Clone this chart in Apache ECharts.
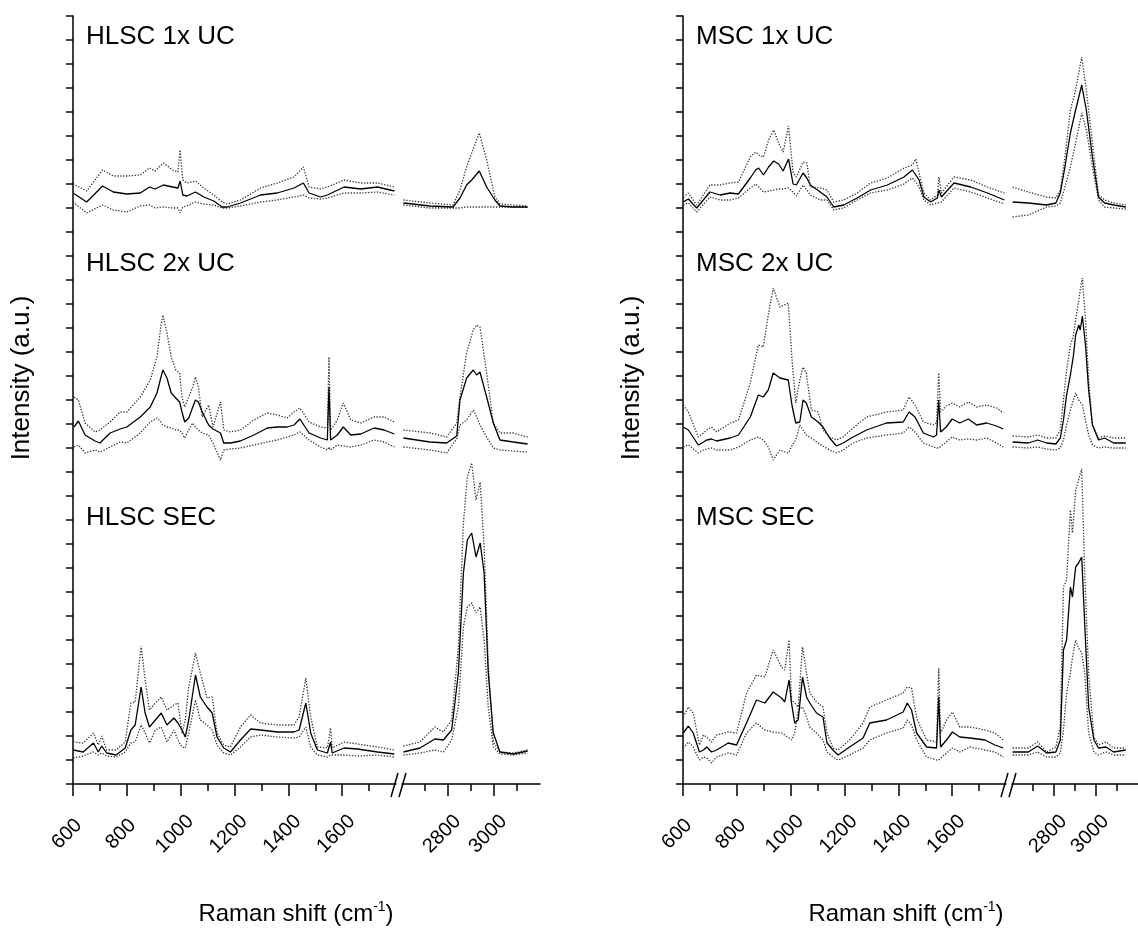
<!DOCTYPE html>
<html><head><meta charset="utf-8">
<script src="https://cdn.jsdelivr.net/npm/echarts@6/dist/echarts.min.js"></script>
<style>html,body{margin:0;padding:0;background:#fff}#c{width:1138px;height:929px}</style>
</head><body><div id="c"></div>
<script>
// ---------- DATA (y values in arbitrary intensity units, offset stacked) ----------
// HLSC 1x UC
const hlsc1_L_x = [600,651,710,750,800,850,884,905,936,970,990,998,1008,1023,1055,1086,1123,1154,1173,1222,1297,1359,1421,1456,1477,1520,1545,1607,1669,1731,1794];
const hlsc1_L_mean = [591,582,598,592,590,591,597,595,599,597,596,603,589,588,592,587,583,577,577,581,589,591,596,601,591,587,589,597,595,597,593];
const hlsc1_L_up = [600,593,614,608,608,609,616,613,621,614,612,634,604,601,603,596,589,582,580,584,596,601,607,617,597,595,597,604,601,601,597];
const hlsc1_L_lo = [582,571,579,574,572,578,579,576,577,576,576,571,577,578,582,580,579,576,576,578,582,584,587,589,586,585,586,591,591,592,589];
const hlsc1_R_x = [2606,2722,2822,2852,2881,2903,2936,2968,3004,3026,3083,3147];
const hlsc1_R_mean = [581,578,577,586,599,604,613,597,584,578,577,577];
const hlsc1_R_up = [584,581,579,594,617,631,651,624,587,580,579,578];
const hlsc1_R_lo = [579,576,576,576,577,577,577,577,577,577,577,577];
// HLSC 2x UC
const hlsc2_L_x = [604,620,645,682,700,738,775,800,850,887,912,926,934,949,965,982,996,1005,1015,1030,1045,1055,1066,1080,1104,1120,1148,1160,1185,1222,1272,1322,1359,1396,1421,1443,1477,1520,1545,1551,1557,1582,1604,1632,1669,1719,1756,1794];
const hlsc2_L_mean = [357,363,349,343,341,351,355,357,367,377,391,406,414,406,391,386,382,372,362,366,377,384,382,372,359,355,351,341,341,343,349,356,357,357,359,365,351,346,344,397,344,349,357,349,350,356,354,350];
const hlsc2_L_up = [387,384,361,352,354,362,372,372,387,404,427,457,469,451,427,414,411,387,377,387,397,407,397,367,379,357,382,354,352,354,364,371,369,366,372,376,362,357,356,427,354,364,381,364,361,367,367,362];
const hlsc2_L_lo = [337,339,331,334,332,337,342,341,351,362,366,362,359,357,356,354,354,351,346,354,361,357,354,351,349,341,324,334,335,336,339,342,344,347,349,352,344,337,334,337,334,339,338,337,339,344,342,337];
const hlsc2_R_x = [2606,2722,2794,2838,2852,2881,2910,2925,2939,2968,2997,3026,3084,3146];
const hlsc2_R_mean = [346,342,341,348,384,406,414,409,412,387,361,344,342,340];
const hlsc2_R_up = [354,351,347,361,387,431,454,459,457,411,361,351,351,347];
const hlsc2_R_lo = [337,334,331,345,359,364,374,367,359,347,336,334,333,332];
// HLSC SEC
const hlscS_L_x = [601,638,676,694,707,725,760,794,815,831,853,868,884,906,928,949,975,990,1005,1017,1030,1055,1073,1098,1117,1135,1160,1185,1222,1260,1297,1359,1421,1440,1465,1483,1508,1545,1557,1563,1607,1657,1731,1794];
const hlscS_L_mean = [34,32,41,32,38,31,29,36,54,59,97,71,57,64,71,59,66,61,54,47,64,109,87,77,71,47,36,32,44,55,54,52,52,54,81,51,34,31,42,31,36,35,32,30];
const hlscS_L_up = [42,41,51,39,48,34,34,42,81,82,138,104,74,81,87,74,79,81,51,64,97,131,111,86,87,51,39,37,57,69,61,59,59,67,106,67,37,36,56,36,42,40,37,34];
const hlscS_L_lo = [26,28,32,29,31,28,27,32,41,42,59,51,41,54,57,42,54,44,37,36,51,84,64,59,54,39,31,29,37,47,49,47,46,47,57,37,29,27,29,27,29,28,29,27];
const hlscS_R_x = [2606,2678,2743,2780,2816,2845,2867,2884,2903,2922,2940,2957,2975,2997,3026,3084,3146];
const hlscS_R_mean = [32,36,45,44,54,111,211,244,251,227,241,211,111,51,32,30,33];
const hlscS_R_up = [38,42,57,52,64,137,261,307,321,284,302,237,121,42,32,31,34];
const hlscS_R_lo = [29,31,34,32,44,77,157,177,181,171,177,144,77,37,30,29,31];
// MSC 1x UC
const msc1_L_x = [601,620,651,700,738,775,806,850,870,881,899,918,937,955,972,992,1009,1021,1046,1060,1073,1110,1135,1160,1197,1247,1297,1359,1421,1452,1465,1477,1495,1520,1545,1551,1560,1607,1669,1731,1794];
const msc1_L_mean = [582,585,576,592,589,591,590,606,614,616,609,617,623,620,613,625,600,599,611,606,599,592,587,577,579,586,594,599,607,614,609,604,587,582,586,594,587,601,597,591,584];
const msc1_L_up = [587,591,579,599,599,601,602,627,632,629,627,644,654,641,632,658,611,607,622,621,597,596,594,582,584,591,601,606,616,619,625,611,591,584,589,607,591,607,604,597,591];
const msc1_L_lo = [579,581,572,587,584,584,586,596,600,597,592,593,594,595,595,596,592,588,599,594,589,584,584,574,576,584,591,594,600,606,602,597,584,579,581,581,582,596,592,586,580];
const msc1_R_x = [2603,2678,2765,2809,2830,2852,2878,2903,2932,2954,2983,3012,3041,3084,3142];
const msc1_R_mean = [582,581,579,581,591,617,651,674,699,674,627,587,581,579,577];
const msc1_R_up = [597,592,587,586,594,627,674,694,727,694,641,589,584,581,579];
const msc1_R_lo = [567,569,577,578,581,597,617,641,671,654,617,584,577,576,575];
// MSC 2x UC
const msc2_L_x = [601,620,657,676,688,706,725,775,806,850,880,898,917,935,960,991,997,1006,1019,1034,1046,1058,1077,1102,1120,1145,1170,1195,1232,1282,1356,1418,1440,1462,1493,1530,1542,1550,1557,1578,1600,1628,1660,1691,1728,1765,1790];
const msc2_L_mean = [357,354,339,342,344,345,343,346,349,367,389,387,394,411,406,404,402,377,361,362,384,381,367,362,357,346,338,341,347,354,361,362,372,367,351,347,349,384,352,357,365,361,365,359,361,358,355];
const msc2_L_up = [379,372,347,351,354,357,352,361,364,401,439,437,469,496,477,481,482,421,381,404,417,411,374,372,354,347,344,347,356,367,372,374,387,379,362,359,361,411,372,378,381,377,382,377,379,376,371];
const msc2_L_lo = [337,339,331,334,335,336,334,334,337,344,347,344,337,324,334,331,332,339,344,359,354,349,346,341,338,334,331,334,341,346,349,351,357,352,341,337,336,336,337,342,347,344,345,344,346,341,337];
const msc2_R_x = [2603,2678,2722,2765,2809,2830,2845,2860,2878,2893,2903,2918,2925,2935,2950,2965,2983,3012,3041,3084,3142];
const msc2_R_mean = [342,341,344,341,340,346,364,389,409,429,449,459,454,468,439,394,359,344,346,341,341];
const msc2_R_up = [348,347,349,346,346,354,384,414,439,449,464,484,494,506,464,404,359,346,348,346,346];
const msc2_R_lo = [337,336,337,335,334,336,344,359,374,384,391,384,382,379,364,349,339,336,337,336,336];
// MSC SEC
const mscS_L_x = [601,620,638,661,676,688,706,725,768,799,836,873,904,935,966,978,994,1003,1015,1028,1044,1059,1071,1096,1120,1135,1157,1176,1219,1269,1294,1356,1418,1433,1449,1468,1505,1542,1550,1557,1579,1601,1628,1666,1722,1759,1790];
const mscS_L_mean = [51,58,51,32,34,37,32,34,41,39,61,84,81,92,86,82,104,81,61,64,107,87,81,71,67,41,34,29,37,46,61,64,72,81,74,51,37,36,87,37,44,52,47,46,44,39,36];
const mscS_L_up = [67,77,71,39,49,47,42,49,52,51,91,109,107,134,117,114,144,84,81,77,137,111,91,82,77,51,36,34,44,61,77,84,91,97,96,66,44,42,116,51,64,72,57,57,54,51,44];
const mscS_L_lo = [36,42,37,24,27,26,21,27,31,29,51,61,54,52,51,49,46,44,51,74,77,67,57,51,44,32,27,24,29,36,44,51,56,64,59,44,27,24,24,26,31,36,32,37,34,32,27];
const mscS_R_x = [2603,2678,2722,2765,2809,2830,2845,2860,2878,2888,2903,2917,2932,2946,2965,2990,3012,3048,3084,3142];
const mscS_R_mean = [32,32,38,31,32,44,134,144,197,187,217,221,227,161,77,44,36,37,32,34];
const mscS_R_up = [36,36,42,32,37,57,197,204,274,251,294,304,315,211,111,47,39,42,36,36];
const mscS_R_lo = [29,29,32,27,27,31,54,91,111,127,144,136,131,111,51,32,29,32,29,29];

// axis ticks / labels
const lowMajorTicks = [600,800,1000,1200,1400,1600];
const lowMinorTicks = [700,900,1100,1300,1500,1700];
const highMajorTicks = [2800,3000];
const highMinorTicks = [2700,2900,3100];
const panelTitles = ['HLSC 1x UC','HLSC 2x UC','HLSC SEC','MSC 1x UC','MSC 2x UC','MSC SEC'];
const xName = 'Raman shift (cm';
const yName = 'Intensity (a.u.)';

// ---------- CHART ----------
const FONT = '"Liberation Sans", Arial, Helvetica, sans-serif';
const chart = echarts.init(document.getElementById('c'), null, {renderer:'canvas'});
const GT = 16, GH = 768;
const grids = [
  {left:73, top:GT, width:323, height:GH},
  {left:402, top:GT, width:138, height:GH},
  {left:683, top:GT, width:323, height:GH},
  {left:1012, top:GT, width:138, height:GH}
];
const ranges = [[600,1800],[2600,3200],[600,1800],[2600,3200]];
const majors = [lowMajorTicks, highMajorTicks, lowMajorTicks, highMajorTicks];
const minors = [lowMinorTicks, highMinorTicks, lowMinorTicks, highMinorTicks];
const axisCol = '#000';
const xAxes = [], yAxes = [];
grids.forEach((g, i) => {
  xAxes.push({
    gridIndex:i, type:'value', min:ranges[i][0], max:ranges[i][1], interval:200, position:'bottom',
    axisLine:{show:true, onZero:false, lineStyle:{color:axisCol, width:1.5}},
    axisTick:{show:true, inside:false, length:12, customValues:majors[i], lineStyle:{color:axisCol, width:1.5}},
    axisLabel:{show:true, customValues:majors[i], rotate:45, margin:44, fontSize:20, color:'#000', fontFamily:FONT,
      align:'center', verticalAlign:'middle', padding:[0,17,0,0], formatter: v => String(v)},
    splitLine:{show:false}
  });
  xAxes.push({
    gridIndex:i, type:'value', min:ranges[i][0], max:ranges[i][1], interval:200, position:'bottom',
    axisLine:{show:false, onZero:false},
    axisTick:{show:true, inside:false, length:7, customValues:minors[i], lineStyle:{color:axisCol, width:1.5}},
    axisLabel:{show:false}, splitLine:{show:false}
  });
  yAxes.push({
    gridIndex:i, type:'value', min:0, max:768, interval:24, show: i % 2 === 0,
    axisLine:{show:true, onZero:false, lineStyle:{color:axisCol, width:1.5}},
    axisTick:{show:true, inside:false, length:7, lineStyle:{color:axisCol, width:1.5}},
    axisLabel:{show:false}, splitLine:{show:false}
  });
});

const series = [];
function pairs(xs, ys){ return xs.map((x, k) => [x, ys[k]]); }
function addSpec(gi, xs, mean, up, lo){
  const base = {type:'line', xAxisIndex:2*gi, yAxisIndex:gi, symbol:'none', showSymbol:false, silent:true, animation:false, clip:true};
  series.push(Object.assign({}, base, {data:pairs(xs, up), z:2, lineStyle:{color:'#333', width:1.3, type:[1.3,1.6]}}));
  series.push(Object.assign({}, base, {data:pairs(xs, lo), z:2, lineStyle:{color:'#333', width:1.3, type:[1.3,1.6]}}));
  series.push(Object.assign({}, base, {data:pairs(xs, mean), z:3, lineStyle:{color:'#000', width:1.3}}));
}
addSpec(0, hlsc1_L_x, hlsc1_L_mean, hlsc1_L_up, hlsc1_L_lo);
addSpec(1, hlsc1_R_x, hlsc1_R_mean, hlsc1_R_up, hlsc1_R_lo);
addSpec(0, hlsc2_L_x, hlsc2_L_mean, hlsc2_L_up, hlsc2_L_lo);
addSpec(1, hlsc2_R_x, hlsc2_R_mean, hlsc2_R_up, hlsc2_R_lo);
addSpec(0, hlscS_L_x, hlscS_L_mean, hlscS_L_up, hlscS_L_lo);
addSpec(1, hlscS_R_x, hlscS_R_mean, hlscS_R_up, hlscS_R_lo);
addSpec(2, msc1_L_x, msc1_L_mean, msc1_L_up, msc1_L_lo);
addSpec(3, msc1_R_x, msc1_R_mean, msc1_R_up, msc1_R_lo);
addSpec(2, msc2_L_x, msc2_L_mean, msc2_L_up, msc2_L_lo);
addSpec(3, msc2_R_x, msc2_R_mean, msc2_R_up, msc2_R_lo);
addSpec(2, mscS_L_x, mscS_L_mean, mscS_L_up, mscS_L_lo);
addSpec(3, mscS_R_x, mscS_R_mean, mscS_R_up, mscS_R_lo);

chart.setOption({
  backgroundColor:'#fff', animation:false,
  grid: grids, xAxis: xAxes, yAxis: yAxes, series: series
});

// ---------- texts and axis-break marks ----------
const graphics = [];
const titleY = [37, 264, 518];
panelTitles.forEach((t, i) => {
  const panel = Math.floor(i / 3);
  const gx = grids[panel * 2].left;
  graphics.push({type:'text', x: gx + 13, y: titleY[i % 3], style:{text:t, font:'26px ' + FONT, fill:'#000', textAlign:'left', textVerticalAlign:'middle', verticalAlign:'middle'}});
});
[0, 2].forEach(gi => {
  const p0 = chart.convertToPixel({gridIndex:gi}, [ranges[gi][0], 0]);
  const cx = p0[0] + 223;
  graphics.push({type:'text', x: cx, y: 914, style:{
    text:'{a|' + xName + '}{s|-1}{a|)}', textAlign:'center', textVerticalAlign:'middle', verticalAlign:'middle',
    rich:{a:{fontSize:24, fontFamily:FONT, fill:'#000', lineHeight:28}, s:{fontSize:14, fontFamily:FONT, fill:'#000', verticalAlign:'top', lineHeight:28}}
  }});
  graphics.push({type:'text', x: p0[0] - 51, y: 378, rotation: Math.PI / 2, style:{
    text: yName, font:'26px ' + FONT, fill:'#000', textAlign:'center', textVerticalAlign:'middle', verticalAlign:'middle'}});
  const a = chart.convertToPixel({gridIndex:gi}, [ranges[gi][1], 0]);
  const b = chart.convertToPixel({gridIndex:gi + 1}, [ranges[gi + 1][0], 0]);
  const c = (a[0] + b[0]) / 2, y = a[1];
  graphics.push({type:'line', shape:{x1:c - 8, y1:y + 13, x2:c - 1, y2:y - 11}, style:{stroke:'#000', lineWidth:1.5}});
  graphics.push({type:'line', shape:{x1:c, y1:y + 13, x2:c + 7, y2:y - 11}, style:{stroke:'#000', lineWidth:1.5}});
});
chart.setOption({graphic: graphics});
</script>
</body></html>
